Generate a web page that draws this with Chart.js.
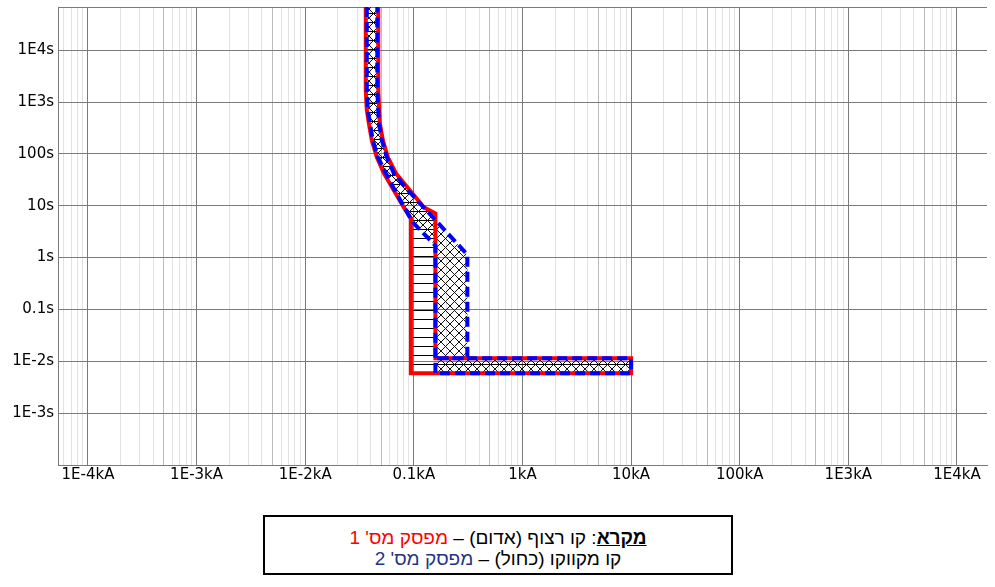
<!DOCTYPE html>
<html lang="he">
<head>
    <meta charset="UTF-8">
    <title>עקומות ניתוק מפסקים</title>
    <style>
        body {
            margin: 0;
            background-color: white;
            font-family: "DejaVu Sans", sans-serif;
        }
        #chartBox {
            position: absolute;
            left: 0;
            top: 0;
            width: 995px;
            height: 495px;
        }
        #legend {
            position: absolute;
            left: 263px;
            top: 515px;
            width: 466px;
            height: 46px;
            padding-top: 10px;
            border: 2px solid black;
            text-align: center;
            font-family: "Liberation Sans", Arial, sans-serif;
            font-size: 19px;
            line-height: 21px;
        }
        #legend .red { color: #ff0000; }
        #legend .navy { color: #1f3585; }
    </style>
    <script src="https://cdn.jsdelivr.net/npm/chart.js"></script>
</head>
<body>
    <div id="chartBox"><canvas id="tcc"></canvas></div>

    <div id="legend" dir="rtl">
        <div><b><u>מקרא</u></b>: קו רצוף (אדום) – <span class="red">מפסק מס' 1</span></div>
        <div>קו מקווקו (כחול) – <span class="navy">מפסק מס' 2</span></div>
    </div>

    <script>
        // ticks of the axes
        const xTickValues = [1e-4, 1e-3, 1e-2, 0.1, 1, 10, 100, 1e3, 1e4];
        const xTickLabels = ['1E-4kA', '1E-3kA', '1E-2kA', '0.1kA', '1kA', '10kA', '100kA', '1E3kA', '1E4kA'];
        const yTickValues = [1e-3, 1e-2, 0.1, 1, 10, 100, 1e3, 1e4];
        const yTickLabels = ['1E-3s', '1E-2s', '0.1s', '1s', '10s', '100s', '1E3s', '1E4s'];

        const xMin = 5.3e-5, xMax = 1.89e4;
        const yMin = 1.0e-4, yMax = 6.8e4;

        // breaker 1 band (kA / s), outline walked round the band
        const breaker1Current = [0.0361, 0.0361, 0.0369, 0.0385, 0.0410, 0.0456, 0.0529, 0.0654, 0.0809, 0.094,
            0.094, 10, 10, 0.158, 0.158, 0.1236, 0.0919, 0.0683, 0.0576, 0.0518, 0.0486, 0.0471, 0.0471];
        const breaker1Time = [6.8e4, 1700, 706, 395, 185, 86.7, 42.4, 19.9, 9.31, 5.70,
            0.0059, 0.0059, 0.0115, 0.0115, 7.12, 9.31, 19.9, 42.4, 86.7, 185, 395, 1700, 6.8e4];

        // breaker 2 band
        const breaker2Current = [0.0369, 0.0369, 0.0377, 0.0394, 0.0419, 0.0466, 0.0552, 0.0683, 0.0979, 0.158,
            0.158, 10, 10, 0.158, 0.311, 0.311, 0.0881, 0.0654, 0.0564, 0.0507, 0.0476, 0.0461, 0.0461];
        const breaker2Time = [6.8e4, 1700, 706, 395, 185, 86.7, 42.4, 18.2, 4.77, 1.71,
            0.0059, 0.0059, 0.0115, 0.0115, 0.0115, 1.14, 19.9, 42.4, 86.7, 185, 395, 1700, 6.8e4];

        function toPoints(xs, ys) {
            return xs.map((x, i) => ({ x: x, y: ys[i] }));
        }

        // hatch patterns
        function makePattern(size, draw) {
            const c = document.createElement('canvas');
            c.width = size;
            c.height = size;
            const g = c.getContext('2d');
            draw(g, size);
            return g.createPattern(c, 'repeat');
        }
        const lineHatch = makePattern(9, (g, s) => {
            g.fillStyle = '#000';
            g.fillRect(0, 4, s, 1);
        });
        const crossHatch = makePattern(9, (g, s) => {
            g.strokeStyle = '#111';
            g.lineWidth = 1;
            g.beginPath();
            for (let o = -s; o <= s; o += s) {
                g.moveTo(o, 0); g.lineTo(o + s, s);
                g.moveTo(o + s, 0); g.lineTo(o, s);
            }
            g.stroke();
        });

        // all grid positions of the x axis (decades and 2..9)
        const xGrid = [];
        for (let e = -5; e <= 4; e++) {
            for (let k = 1; k <= 9; k++) {
                const v = Number((k * Math.pow(10, e)).toPrecision(3));
                if (v >= xMin && v <= xMax) xGrid.push(v);
            }
        }

        function labelFor(values, labels, v) {
            const i = values.findIndex(t => Math.abs(Math.log10(t) - Math.log10(v)) < 1e-6);
            return i >= 0 ? labels[i] : '';
        }

        function mantissa(v) {
            return Math.round(v / Math.pow(10, Math.floor(Math.log10(v) + 1e-9)));
        }

        const tickFont = { family: 'DejaVu Sans', size: 15 };

        new Chart(document.getElementById('tcc'), {
            type: 'scatter',
            data: {
                datasets: [
                    {
                        label: "מפסק מס' 2",
                        data: toPoints(breaker2Current, breaker2Time),
                        showLine: true,
                        borderColor: '#0000ff',
                        borderWidth: 4,
                        borderDash: [10, 5],
                        borderJoinStyle: 'miter',
                        backgroundColor: crossHatch,
                        fill: 'shape',
                        pointRadius: 0,
                        tension: 0,
                        clip: false
                    },
                    {
                        label: "מפסק מס' 1",
                        data: toPoints(breaker1Current, breaker1Time),
                        showLine: true,
                        borderColor: '#ff0000',
                        borderWidth: 4,
                        borderJoinStyle: 'miter',
                        backgroundColor: lineHatch,
                        fill: 'shape',
                        pointRadius: 0,
                        tension: 0,
                        clip: false
                    }
                ]
            },
            options: {
                responsive: true,
                maintainAspectRatio: false,
                animation: false,
                events: [],
                layout: { padding: { top: 7, right: 8, left: 0, bottom: 0 } },
                plugins: {
                    legend: { display: false },
                    tooltip: { enabled: false },
                    filler: { drawTime: 'beforeDatasetsDraw' }
                },
                scales: {
                    x: {
                        type: 'logarithmic',
                        min: xMin,
                        max: xMax,
                        afterBuildTicks: (s) => { s.ticks = xGrid.map(v => ({ value: v })); },
                        afterFit: (s) => {
                            s.height = 30;
                            s.paddingLeft = 0;
                            s.paddingRight = 0;
                        },
                        ticks: {
                            autoSkip: false,
                            maxRotation: 0,
                            padding: 1,
                            color: '#000',
                            font: tickFont,
                            callback: (v) => labelFor(xTickValues, xTickLabels, v)
                        },
                        grid: {
                            drawTicks: false,
                            color: (c) => {
                                const m = mantissa(c.tick.value);
                                if (m === 1) return '#7a7a7a';
                                if (m === 5) return '#bdbdbd';
                                return '#e2e2e2';
                            }
                        },
                        border: { color: '#7a7a7a', width: 1 }
                    },
                    y: {
                        type: 'logarithmic',
                        min: yMin,
                        max: yMax,
                        afterBuildTicks: (s) => {
                            s.ticks = yTickValues.concat([yMax]).map(v => ({ value: v }));
                        },
                        afterFit: (s) => {
                            s.width = 58;
                            s.paddingTop = 0;
                            s.paddingBottom = 0;
                        },
                        ticks: {
                            autoSkip: false,
                            padding: 4,
                            color: '#000',
                            font: tickFont,
                            callback: (v) => labelFor(yTickValues, yTickLabels, v)
                        },
                        grid: {
                            drawTicks: false,
                            color: '#7a7a7a'
                        },
                        border: { color: '#7a7a7a', width: 1 }
                    }
                }
            }
        });
    </script>
</body>
</html>
